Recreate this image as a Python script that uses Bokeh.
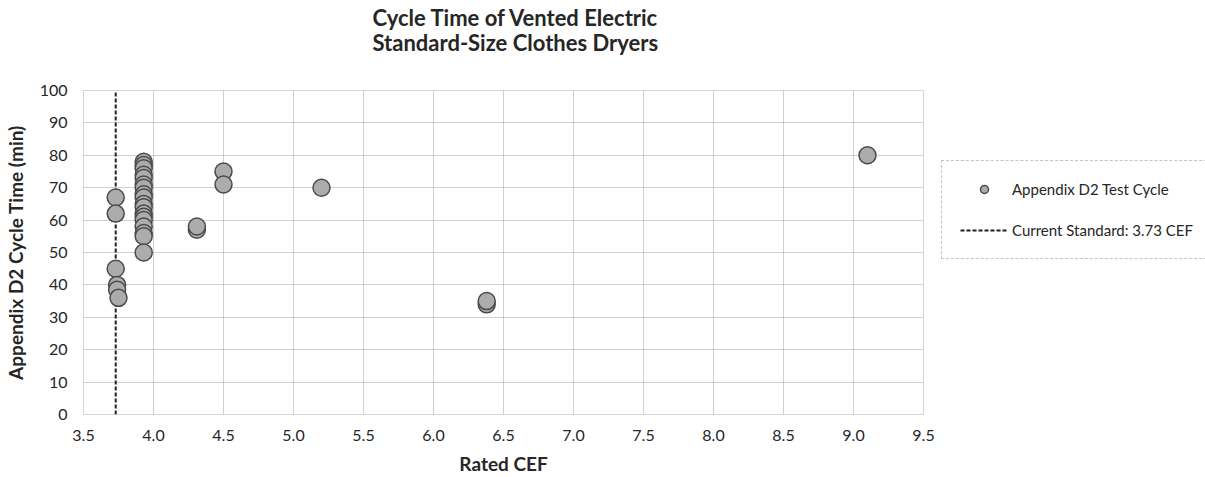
from bokeh.plotting import figure
from bokeh.models import Legend, LegendItem, FixedTicker, Range1d, Title
from bokeh.embed import file_html
from bokeh.resources import INLINE

# ---- data ----
rated_cef = [3.73, 3.73, 3.73, 3.74, 3.74, 3.75,
             3.93, 3.93, 3.93, 3.93, 3.93, 3.93, 3.93, 3.93, 3.93,
             3.93, 3.93, 3.93, 3.93, 3.93, 3.93, 3.93, 3.93, 3.93,
             4.31, 4.31, 4.50, 4.50, 5.20, 6.38, 6.38, 9.10]
cycle_time = [67, 62, 45, 40, 38.5, 36,
              78, 77, 76, 74, 73, 71, 70, 68, 67,
              65, 64, 62, 61, 60, 58, 56, 55, 50,
              57, 58, 75, 71, 70, 34, 35, 80]
standard_x = [3.73, 3.73]
standard_y = [0, 100]
x_ticks = [3.5, 4.0, 4.5, 5.0, 5.5, 6.0, 6.5, 7.0, 7.5, 8.0, 8.5, 9.0, 9.5]
x_tick_labels = ["3.5", "4.0", "4.5", "5.0", "5.5", "6.0", "6.5", "7.0",
                 "7.5", "8.0", "8.5", "9.0", "9.5"]
y_ticks = [0, 10, 20, 30, 40, 50, 60, 70, 80, 90, 100]
title_text = "Cycle Time of Vented Electric\nStandard-Size Clothes Dryers"
series_label = "Appendix D2 Test Cycle"
standard_label = "Current Standard: 3.73 CEF"

FONT = "Lato"
TXT = "#262626"

p = figure(output_backend="svg", toolbar_location=None,
           x_range=Range1d(3.5, 9.5), y_range=Range1d(0, 100),
           frame_width=840, frame_height=324,
           min_border_left=80, min_border_top=90, min_border_right=285,
           min_border_bottom=63)

# main title (outermost)
p.title.text = title_text
p.title.align = "left"
p.title.vertical_align = "bottom"
p.title.offset = 289
p.title.text_font = FONT
p.title.text_font_size = "22px"
p.title.text_font_style = "bold"
p.title.text_color = TXT
p.title.text_line_height = 0.95
p.title.standoff = 0

# empty spacer between the title and the plot frame
spacer = Title(text=" ", text_font_size="1px", standoff=31)
p.add_layout(spacer, "above")

p.outline_line_color = "#a8a8a8"
p.outline_line_dash = "1 1"
p.outline_line_width = 1

for g in (p.xgrid, p.ygrid):
    g.grid_line_color = "#a0a0a0"
    g.grid_line_dash = "1 1"
    g.grid_line_width = 1
p.xgrid.ticker = FixedTicker(ticks=x_ticks)
p.ygrid.ticker = FixedTicker(ticks=y_ticks)

for ax in (p.xaxis[0], p.yaxis[0]):
    ax.axis_line_color = None
    ax.major_tick_line_color = None
    ax.minor_tick_line_color = None
    ax.major_tick_out = 0
    ax.major_label_text_font = FONT
    ax.major_label_text_font_size = "16px"
    ax.major_label_text_color = TXT
    ax.axis_label_text_font = FONT
    ax.axis_label_text_font_size = "19px"
    ax.axis_label_text_font_style = "bold"
    ax.axis_label_text_color = TXT

p.xaxis.ticker = FixedTicker(ticks=x_ticks)
p.xaxis.major_label_overrides = {t: l for t, l in zip(x_ticks, x_tick_labels)}
p.xaxis.major_label_standoff = 15
p.xaxis.axis_label = "Rated CEF"
p.xaxis.axis_label_standoff = 8

p.yaxis.ticker = FixedTicker(ticks=y_ticks)
p.yaxis.major_label_standoff = 16
p.yaxis.axis_label = "Appendix D2 Cycle Time (min)"
p.yaxis.axis_label_standoff = 10

std = p.line(standard_x, standard_y, line_color="#1f1f1f", line_width=2,
             line_dash="4 2")
pts = p.scatter(rated_cef, cycle_time, size=17, marker="circle",
                fill_color="#acacac", line_color="#4a4a4a", line_width=1.5)

legend = Legend(items=[LegendItem(label=series_label, renderers=[pts]),
                       LegendItem(label=standard_label, renderers=[std])],
                location=(18, 155), margin=0, padding=18, spacing=21,
                glyph_width=48, glyph_height=20, label_height=20,
                label_width=171, label_standoff=4,
                label_text_font=FONT, label_text_font_size="15px",
                label_text_color=TXT,
                border_line_color="#8a8a8a", border_line_dash="1 1",
                border_line_width=1, background_fill_color="white")
p.add_layout(legend, "right")

open("out.html", "w").write(file_html(p, INLINE))
